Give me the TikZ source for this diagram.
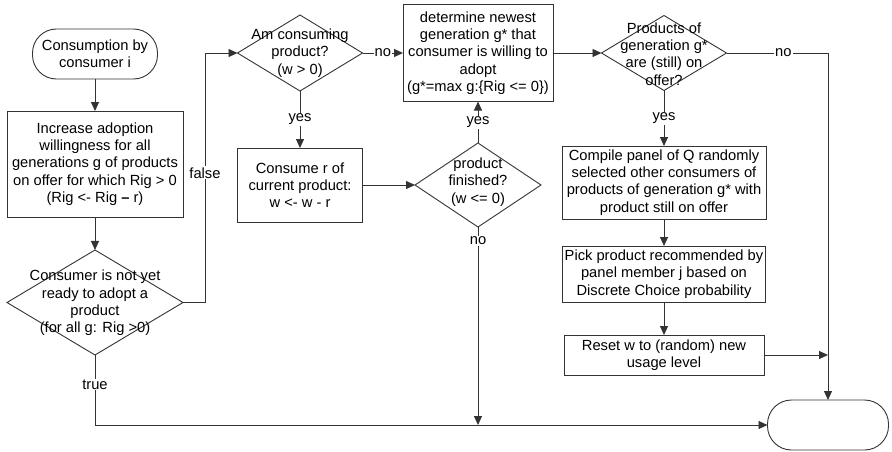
\documentclass[tikz,border=0pt]{standalone}
\usepackage{fontspec}
\setmainfont{Liberation Sans}
\usetikzlibrary{shapes.geometric, arrows.meta, positioning}

\begin{document}
\begin{tikzpicture}[x=1pt, y=-1pt, >={Triangle[length=9pt,width=8pt]}, line width=0.9pt,
    every node/.style={font=\fontsize{14.7}{17.3}\selectfont},
    box/.style={draw=black!80, rectangle, align=center, inner sep=2pt, outer sep=0pt},
    term/.style={draw=black!80, rectangle, rounded corners=24pt, minimum width=125pt, minimum height=50pt, outer sep=0pt},
    decision/.style={draw=black!80, diamond, inner sep=0pt, outer sep=0pt},
    dtext/.style={align=center, inner sep=0pt},
    lbl/.style={fill=white, inner sep=1pt},
    arr/.style={->, draw=black!80}]
    \useasboundingbox (0,0) rectangle (892,452);

    % start and end
    \node[term, align=center] (start) at (95,54) {Consumption by\\consumer i};
    \node[term, minimum width=121pt] (stop) at (828,425) {};

    % left column
    \node[box, minimum width=176pt, minimum height=106pt] (increase) at (95,164)
        {Increase adoption\\willingness for all\\generations g of products\\on offer for which Rig > 0\\(Rig <- Rig \textbf{--} r)};
    \node[decision, minimum width=176pt, minimum height=105pt] (ready) at (95,302.5) {};
    \node[dtext] (readytxt) at (95,303) {Consumer is not yet\\ready to adopt a\\product\\(for all g: Rig >0)};

    % consuming
    \node[decision, minimum width=125pt, minimum height=76pt] (consuming) at (300,53) {};
    \node[dtext] (consumingtxt) at (300,53) {Am consuming\\product?\\(w > 0)};
    \node[box, minimum width=125pt, minimum height=74pt] (consume) at (300,185)
        {Consume r of\\current product:\\w <- w - r};
    \node[decision, minimum width=126pt, minimum height=84pt] (finished) at (478,185) {};
    \node[dtext] (finishedtxt) at (478,182) {product\\finished?\\(w <= 0)};
    \node[box, minimum width=150pt, minimum height=97pt] (newest) at (478,53)
        {determine newest\\generation g* that\\consumer is willing to\\adopt\\(g*=max g:\{Rig <= 0\})};

    % adoption
    \node[decision, minimum width=125pt, minimum height=75pt] (offer) at (664,53) {};
    \node[dtext] (offertxt) at (664,54) {Products of\\generation g*\\are (still) on\\offer?};
    \node[box, minimum width=204pt, minimum height=73pt] (panel) at (664,182.5)
        {Compile panel of Q randomly\\selected other consumers of\\products of generation g* with\\product still on offer};
    \node[box, minimum width=200pt, minimum height=56pt] (pick) at (664,274)
        {Pick product recommended by\\panel member j based on\\Discrete Choice probability};
    \node[box, minimum width=200pt, minimum height=40pt] (reset) at (664,355)
        {Reset w to (random) new\\usage level};

    \coordinate (fbend) at (205,53);
    \coordinate (nojoin) at (finished |- stop.west);

    % connectors
    \draw[arr] (start) -- (increase);
    \draw[arr] (increase) -- (ready);
    \draw[arr] (ready.east) -| node[lbl, pos=0.76] {false} (fbend) -- (consuming.west);
    \draw[arr] (ready.south) |- node[lbl, pos=0.21] {true} (stop.west);
    \draw[arr] (consuming.east) -- node[lbl] {no} (newest.west);
    \draw[arr] (consuming.south) -- node[lbl] {yes} (consume.north);
    \draw[arr] (consume.east) -- (finished.west);
    \draw[arr] (finished.north) -- node[lbl] {yes} (newest.south);
    \draw[arr] (finished.south) -- node[lbl, pos=0.07] {no} (nojoin);
    \draw[arr] (newest.east) -- (offer.west);
    \draw[arr] (offer.east) -| node[lbl, pos=0.28] {no} (stop.north);
    \draw[arr] (offer.south) -- node[lbl] {yes} (panel.north);
    \draw[arr] (panel) -- (pick);
    \draw[arr] (pick) -- (reset);
    \draw[arr] (reset.east) -- (reset.east -| stop.north);
\end{tikzpicture}
\end{document}
